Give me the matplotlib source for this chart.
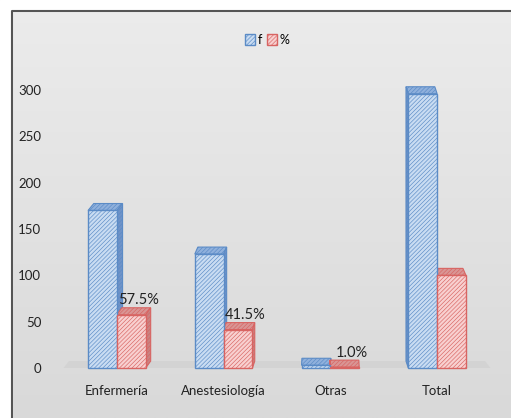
import numpy as np
import matplotlib.pyplot as plt
from matplotlib.patches import Polygon, Rectangle
from matplotlib.colors import LinearSegmentedColormap

# datos del grafico
categorias = ['Enfermería', 'Anestesiología', 'Otras', 'Total']
frecuencia = [170, 123, 3, 296]
porcentaje = [57.5, 41.5, 1.0, 100.0]
etiquetas_pct = ['57.5%', '41.5%', '1.0%', '']
y_ticks = [0, 50, 100, 150, 200, 250, 300]

plt.rcParams['font.family'] = ['Lato', 'DejaVu Sans']
plt.rcParams['hatch.linewidth'] = 0.45

fig = plt.figure(figsize=(5.11, 4.18), dpi=100)

# fondo con degradado y marco
bg = fig.add_axes([0, 0, 1, 1], zorder=-10)
grad = np.linspace(0, 1, 256).reshape(-1, 1)
bg.imshow(grad, cmap=LinearSegmentedColormap.from_list('g', ['#ececec', '#d9d9d9']),
          aspect='auto', extent=[0, 1, 0, 1])
bg.set_xlim(0, 1)
bg.set_ylim(0, 1)
bg.axis('off')
bg.add_patch(Rectangle((0, 0), 12 / 511, 1, color='white', zorder=2))
bg.add_patch(Rectangle((0, 1 - 11 / 418), 1, 11 / 418, color='white', zorder=2))
bg.plot([12 / 511, 12 / 511, 1.0], [0, 1 - 11 / 418, 1 - 11 / 418],
        color='#555555', lw=1.5, zorder=3)

ax = fig.add_axes([63.5 / 511, 50 / 418, 427 / 511, 278 / 418])
ax.set_facecolor('none')

x = np.arange(len(categorias))
w = 0.27
dy = 7.5
rayas = '////////'

azul = dict(front='#c9dcf2', top='#8fb0dc', side='#6f93c8', edge='#5b8bc6')
rojo = dict(front='#f8d0d0', top='#d99594', side='#c98382', edge='#d86462')

# piso
ax.add_patch(Polygon([(-0.5, 0), (3.5, 0), (3.45, dy), (-0.45, dy)],
                     closed=True, facecolor='#cccccc', alpha=0.5,
                     edgecolor='none', clip_on=False, zorder=1))


def barra_3d(x0, h, c):
    dx = -0.025 * (x0 + w / 2 - 2.0)
    top = Polygon([(x0, h), (x0 + w, h), (x0 + w + dx, h + dy), (x0 + dx, h + dy)],
                  closed=True, facecolor=c['top'], edgecolor=c['edge'],
                  hatch=rayas, lw=0.8, clip_on=False, zorder=2)
    ax.add_patch(top)
    xs = x0 + w if dx > 0 else x0
    side = Polygon([(xs, 0), (xs + dx, dy), (xs + dx, h + dy), (xs, h)],
                   closed=True, facecolor=c['side'], edgecolor=c['edge'],
                   hatch=rayas, lw=0.8, clip_on=False, zorder=2)
    ax.add_patch(side)


for i in range(len(categorias)):
    barra_3d(x[i] - w, frecuencia[i], azul)
    barra_3d(x[i], porcentaje[i], rojo)

ax.bar(x - w / 2, frecuencia, w, facecolor=azul['front'], edgecolor=azul['edge'],
       hatch=rayas, lw=1, zorder=3, clip_on=False, label='f')
ax.bar(x + w / 2, porcentaje, w, facecolor=rojo['front'], edgecolor=rojo['edge'],
       hatch=rayas, lw=1, zorder=3, clip_on=False, label='%')

for i, t in enumerate(etiquetas_pct):
    if t:
        ax.text(x[i] + w / 2 + 0.07, porcentaje[i] + dy + 0.5, t,
                ha='center', va='bottom', fontsize=10.5, color='#222222', zorder=5)

ax.set_xlim(-0.5, 3.5)
ax.set_ylim(0, 300)
ax.set_yticks(y_ticks)
ax.set_xticks(x)
ax.set_xticklabels(categorias)
ax.tick_params(length=0, labelsize=9.5, colors='#222222')
ax.tick_params(axis='y', pad=16)
ax.tick_params(axis='x', pad=12)
for s in ax.spines.values():
    s.set_visible(False)

leg = ax.legend(loc='center', bbox_to_anchor=(267 / 511, 1 - 40 / 418),
                bbox_transform=fig.transFigure, ncol=2, frameon=False,
                fontsize=9, handlelength=0.8, handleheight=1.0,
                handletextpad=0.2, columnspacing=0.4)

fig.savefig('out.png', dpi=100)
